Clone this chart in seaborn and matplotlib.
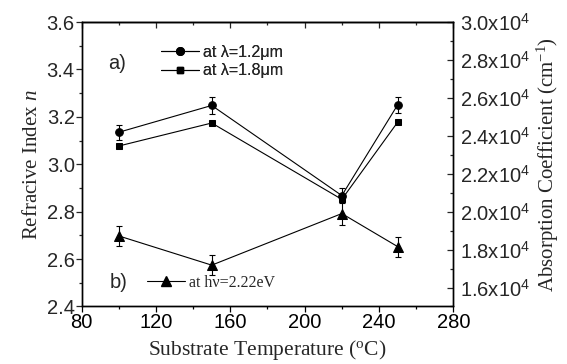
import numpy as np
import pandas as pd
import matplotlib
matplotlib.use("Agg")
import matplotlib.pyplot as plt
import seaborn as sns
from matplotlib.lines import Line2D
from matplotlib.ticker import MultipleLocator, FuncFormatter

temps = [100, 150, 220, 250]
n_12 = [3.135, 3.248, 2.868, 3.250]
n_12_err = [0.032, 0.035, 0.030, 0.035]
n_18 = [3.077, 3.174, 2.852, 3.177]
alpha = [1.872e4, 1.718e4, 1.990e4, 1.816e4]
alpha_err = [0.055e4, 0.052e4, 0.060e4, 0.053e4]

sns.set_theme(style="ticks")
plt.rcParams['font.family'] = ['Liberation Sans', 'DejaVu Sans']
plt.rcParams['mathtext.fontset'] = 'custom'
plt.rcParams['mathtext.rm'] = 'Liberation Serif'
plt.rcParams['mathtext.it'] = 'Liberation Serif:italic'
plt.rcParams['mathtext.sf'] = 'Liberation Sans'
plt.rcParams['mathtext.default'] = 'regular'

fig = plt.figure(figsize=(5.67, 3.64), dpi=100)
ax = fig.add_axes([0.144, 0.158, 0.6555, 0.7815])
ax2 = ax.twinx()

df = pd.DataFrame({"T": temps, "n12": n_12, "n18": n_18, "a": alpha})

LW = 0.8
sns.lineplot(data=df, x="T", y="n12", ax=ax, color="black", lw=LW,
             marker="o", markersize=5.5, markeredgecolor="black")
ax.errorbar(temps, n_12, yerr=n_12_err, fmt="none", ecolor="black",
            elinewidth=LW, capsize=2.5, capthick=LW)
sns.lineplot(data=df, x="T", y="n18", ax=ax, color="black", lw=LW,
             marker="s", markersize=5, markeredgecolor="black")
sns.lineplot(data=df, x="T", y="a", ax=ax2, color="black", lw=LW,
             marker="^", markersize=6.5, markeredgecolor="black")
ax2.errorbar(temps, alpha, yerr=alpha_err, fmt="none", ecolor="black",
             elinewidth=LW, capsize=2.5, capthick=LW)

ax.set_xlim(80, 280)
ax.set_ylim(2.4, 3.6)
ax2.set_ylim(1.5e4, 3.0e4)

ax.xaxis.set_major_locator(MultipleLocator(40))
ax.xaxis.set_minor_locator(MultipleLocator(20))
ax.yaxis.set_major_locator(MultipleLocator(0.2))
ax.yaxis.set_minor_locator(MultipleLocator(0.1))
ax.yaxis.set_major_formatter(FuncFormatter(lambda v, p: f"{v:.1f}"))
ax2.yaxis.set_major_locator(MultipleLocator(0.2e4))
ax2.yaxis.set_minor_locator(MultipleLocator(0.1e4))

def fmt_r(v, p):
    if v < 1.55e4:
        return ""
    return r"%.1fx10$^{\mathsf{4}}$" % (v / 1e4)
ax2.yaxis.set_major_formatter(FuncFormatter(fmt_r))

for a in (ax, ax2):
    for s in a.spines.values():
        s.set_linewidth(1.0)
        s.set_color("black")

FS = 14.5
ax.tick_params(axis="x", which="both", direction="out", bottom=True, top=False,
               labelsize=FS, colors="black", pad=1)
ax.tick_params(axis="x", which="major", length=4, width=0.9)
ax.tick_params(axis="x", which="minor", length=2.5, width=0.9)
ax.tick_params(axis="y", which="both", direction="out", labelsize=FS, pad=1)
ax.tick_params(axis="y", which="major", length=4, width=0.9)
ax.tick_params(axis="y", which="minor", length=2.5, width=0.9)
ax2.tick_params(axis="y", which="both", direction="in", labelsize=FS, pad=5)
ax2.tick_params(axis="y", which="major", length=4, width=0.9)
ax2.tick_params(axis="y", which="minor", length=2.5, width=0.9)

top = ax.secondary_xaxis("top")
top.xaxis.set_major_locator(MultipleLocator(40))
top.xaxis.set_minor_locator(MultipleLocator(20))
top.tick_params(axis="x", which="both", direction="in", labeltop=False, width=0.9)
top.tick_params(axis="x", which="major", length=4)
top.tick_params(axis="x", which="minor", length=2.5)
top.spines["top"].set_linewidth(1.0)

serif = ['Liberation Serif', 'DejaVu Serif']
ax.set_xlabel(r"Substrate Temperature ($^{\rm o}$C)", family=serif, fontsize=15.5, labelpad=4)
ax.set_ylabel(r"Refracive Index $\mathit{n}$", family=serif, fontsize=15, labelpad=3)
ax2.set_ylabel(r"Absorption Coefficient (cm$^{\rm{-1}}$)", family=serif, fontsize=15, labelpad=3)

ax.text(94.2, 3.425, "a)", fontsize=14.5, ha="left", va="center")
ax.text(95.2, 2.50, "b)", fontsize=14.5, ha="left", va="center")

h1 = Line2D([], [], color="black", lw=LW, marker="o", markersize=5.5)
h2 = Line2D([], [], color="black", lw=LW, marker="s", markersize=5)
leg1 = ax.legend([h1, h2], ["at λ=1.2μm", "at λ=1.8μm"], loc="upper left",
                 bbox_to_anchor=(161 / 567, 1 - 45 / 364), bbox_transform=fig.transFigure,
                 frameon=False, fontsize=11.5,
                 handlelength=2.4, handletextpad=0.2, labelspacing=0.2,
                 numpoints=1, borderaxespad=0, borderpad=0)
ax.add_artist(leg1)
h3 = Line2D([], [], color="black", lw=LW, marker="^", markersize=6.5)
leg2 = ax2.legend([h3], ["at hν=2.22eV"], loc="center left",
                  bbox_to_anchor=(147 / 567, 1 - 283 / 364), bbox_transform=fig.transFigure,
                  frameon=False, prop={"family": serif, "size": 11.5},
                  handlelength=2.4, handletextpad=0.25, numpoints=1,
                  borderaxespad=0, borderpad=0)

ax.set_zorder(ax2.get_zorder() + 1)
ax.patch.set_visible(False)

fig.savefig("out.png", dpi=100)
